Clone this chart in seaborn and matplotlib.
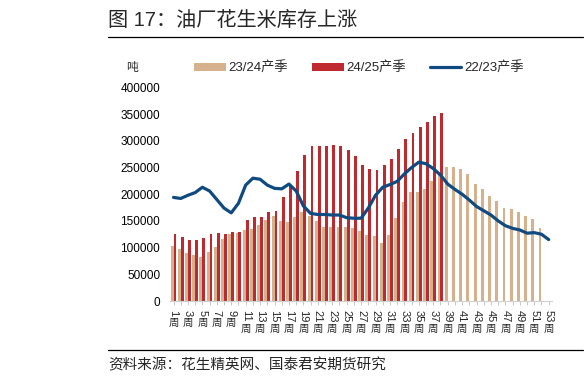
import numpy as np
import pandas as pd
import matplotlib
matplotlib.use("Agg")
import matplotlib.pyplot as plt
from matplotlib.patches import Patch
from matplotlib.lines import Line2D
import seaborn as sns

# ---------------- data ----------------
weeks = list(range(1, 54))
week_labels = [f"{w}周" for w in weeks]

# 23/24 season (52 weeks)
s2324 = [103000, 97000, 90000, 86000, 83000, 92000, 101000, 117000, 125000, 127000,
         133000, 135000, 142000, 152000, 160000, 149000, 148000, 157000, 166000, 159000,
         150000, 138000, 139000, 139000, 139000, 137000, 132000, 124000, 122000, 108000,
         124000, 156000, 186000, 205000, 205000, 209000, 225000, 240000, 251000, 251000,
         247000, 237000, 219000, 209000, 197000, 187000, 175000, 172000, 167000, 160000,
         153000, 137000]
# 24/25 season (38 weeks so far)
s2425 = [125000, 120000, 114000, 114000, 118000, 125000, 127000, 125000, 130000, 130000,
         151000, 158000, 158000, 167000, 169000, 194000, 215000, 243000, 273000, 291000,
         291000, 291000, 293000, 291000, 283000, 271000, 255000, 247000, 245000, 255000,
         265000, 285000, 303000, 314000, 325000, 336000, 346000, 352000]
# 22/23 season (53 weeks)
s2223 = [194000, 192000, 198000, 203000, 213000, 206000, 190000, 174000, 165000, 183000,
         217000, 230000, 228000, 217000, 211000, 210000, 219000, 206000, 178000, 164000,
         162000, 162000, 161000, 161000, 156000, 155000, 155000, 174000, 198000, 213000,
         218000, 224000, 238000, 250000, 260000, 257000, 248000, 236000, 219000, 209000,
         200000, 189000, 177000, 169000, 161000, 150000, 141000, 136000, 133000, 127000,
         128000, 125000, 115000]

series_names = ["23/24产季", "24/25产季", "22/23产季"]
y_ticks = list(range(0, 400001, 50000))

title_text = "图 17：油厂花生米库存上涨"
source_text = "资料来源：花生精英网、国泰君安期货研究"
unit_text = "吨"

# ---------------- styling ----------------
TAN = "#D6B18D"
RED = "#BF2A2F"
NAVY = "#0F4A80"
FONT = ["Liberation Sans", "Noto Sans CJK SC", "DejaVu Sans"]

sns.set_theme(style="white")
plt.rcParams["font.family"] = FONT

rows = []
for w, v in zip(week_labels, s2324):
    rows.append({"week": w, "value": v, "season": series_names[0]})
for w, v in zip(week_labels, s2425):
    rows.append({"week": w, "value": v, "season": series_names[1]})
df = pd.DataFrame(rows)

W, H = 588, 385
fig = plt.figure(figsize=(W / 100, H / 100), dpi=100)
ax = fig.add_axes([169.9 / W, (H - 301) / H, (552.3 - 169.9) / W, (301 - 87.4) / H])

sns.barplot(data=df, x="week", y="value", hue="season", order=week_labels,
            hue_order=series_names[:2], palette=[TAN, RED], width=0.8,
            saturation=1, errorbar=None, legend=False, ax=ax, linewidth=0)

line_df = pd.DataFrame({"pos": np.arange(len(weeks)), "value": s2223})
sns.lineplot(data=line_df, x="pos", y="value", color=NAVY, linewidth=2.3, ax=ax,
             legend=False)

ax.set_xlim(-0.5, len(weeks) - 0.5)
ax.set_ylim(0, 400000)
ax.set_yticks(y_ticks)
ax.set_yticklabels([str(t) for t in y_ticks], fontsize=8.5, color="black")
ax.tick_params(axis="y", length=0, pad=7)

# x ticks: marks at every week, labels drawn as number (rotated) + 周 (upright)
ax.set_xticks(np.arange(len(weeks)))
ax.set_xticklabels([""] * len(weeks))
ax.tick_params(axis="x", bottom=True, length=3, width=0.6, color="#BFBFBF")
for i, w in enumerate(weeks):
    if w % 2 == 1:
        num = str(w)
        ax.annotate(num, xy=(i, 0), xycoords=("data", "axes fraction"),
                    xytext=(0, -6.5), textcoords="offset points",
                    rotation=270, rotation_mode="anchor", ha="left", va="center",
                    fontsize=8, family=FONT)
        off = 6.5 + len(num) * 4.45 + 1.0
        ax.annotate("周", xy=(i, 0), xycoords=("data", "axes fraction"),
                    xytext=(0, -off), textcoords="offset points",
                    ha="center", va="top", fontsize=7.5, family=FONT)

ax.set_xlabel("")
ax.set_ylabel("")
for s in ["top", "right", "left"]:
    ax.spines[s].set_visible(False)
ax.spines["bottom"].set_color("#D0D0D0")
ax.spines["bottom"].set_linewidth(0.8)
ax.grid(False)

# legend
handles = [Patch(facecolor=TAN, edgecolor="none"),
           Patch(facecolor=RED, edgecolor="none"),
           Line2D([0], [0], color=NAVY, lw=2.3)]
fig.legend(handles, series_names, loc="center", bbox_to_anchor=(359 / W, (H - 68) / H),
           ncol=3, frameon=False, handlelength=2.4, handleheight=0.55,
           handletextpad=0.2, columnspacing=1.8, prop={"family": FONT, "size": 9.5})

fig.text(132 / W, (H - 68) / H, unit_text, fontsize=8.5, ha="center", va="center",
         family=FONT)

# title & source
fig.text(108 / W, (H - 20) / H, title_text, fontsize=14.5, ha="left", va="center",
         family=FONT)
fig.add_artist(Line2D([108 / W, 583 / W], [(H - 37) / H] * 2, color="black", lw=0.9))
fig.add_artist(Line2D([108 / W, 583 / W], [(H - 350) / H] * 2, color="black", lw=0.9))
fig.text(108 / W, (H - 365) / H, source_text, fontsize=10.5, ha="left", va="center",
         family=FONT)

fig.savefig("out.png", dpi=100)
